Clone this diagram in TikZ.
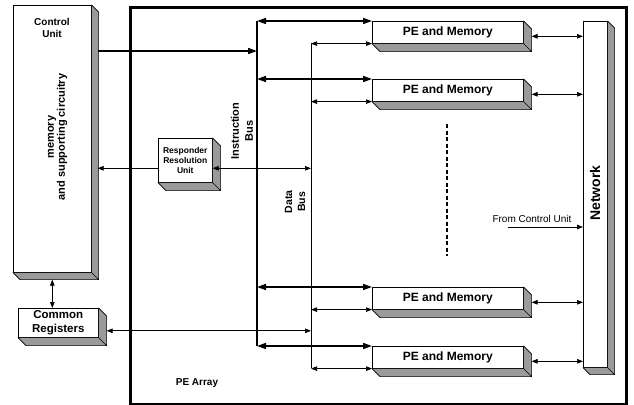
\documentclass[tikz,border=0pt]{standalone}
\usepackage{fontspec}
\setmainfont{Liberation Sans}
\usetikzlibrary{positioning, arrows.meta, calc}
\definecolor{SideGray}{HTML}{9A9A9A}

% gray side and bottom faces of a raised box
\newcommand{\sidefaces}[2]{%
  \filldraw[fill=SideGray, draw=black, line width=0.6pt, line join=round]
    (#1.north east) -- ([shift={(#2,#2)}]#1.north east)
    -- ([shift={(#2,#2)}]#1.south east) -- (#1.south east) -- cycle
    (#1.south west) -- (#1.south east) -- ([shift={(#2,#2)}]#1.south east)
    -- ([shift={(#2,#2)}]#1.south west) -- cycle;}

\begin{document}
\begin{tikzpicture}[x=1pt, y=-1pt,
  front/.style={draw=black, fill=white, line width=0.6pt, inner sep=0pt, anchor=north west, align=center},
  lbl/.style={font=\fontsize{10}{12}\selectfont\bfseries, align=center, inner sep=0pt},
  pe/.style={front, minimum width=151pt, minimum height=22pt, font=\fontsize{12}{14}\selectfont\bfseries},
  ibus/.style={line width=1.6pt},
  dbus/.style={line width=0.8pt},
  iarr/.style={line width=1.6pt, {Triangle[length=9pt,width=6pt]}-{Triangle[length=9pt,width=6pt]}},
  darr/.style={line width=0.7pt, {Triangle[length=6pt,width=4.5pt]}-{Triangle[length=6pt,width=4.5pt]}},
  sarr/.style={line width=0.7pt, -{Triangle[length=6pt,width=4.5pt]}},
]
  \useasboundingbox (0,0) rectangle (634,404);

  % PE array frame
  \node[draw, line width=3pt, inner sep=0pt, anchor=north west,
        minimum width=496pt, minimum height=396pt] (array) at (128.5,6.5) {};
  \node[lbl] (arraylbl) at (197,383) {PE Array};

  % Control unit
  \node[front, minimum width=78pt, minimum height=267pt] (cu) at (13,5) {};
  \sidefaces{cu}{7}
  \node[lbl] (cutitle) at (52,27.5) {Control\\Unit};
  \node[lbl, rotate=90, font=\fontsize{11}{11}\selectfont\bfseries] (cumem) at (57.5,137) {memory\\and supporting circuitry};

  % Common registers
  \node[front, minimum width=80pt, minimum height=29pt, font=\fontsize{11.5}{14}\selectfont\bfseries] (cr) at (18,308) {Common\\Registers};
  \sidefaces{cr}{8}

  % Responder resolution unit
  \node[front, minimum width=54pt, minimum height=44pt, font=\fontsize{8.5}{10}\selectfont\bfseries] (rru) at (158,138) {Responder\\Resolution\\Unit};
  \sidefaces{rru}{8}

  % PEs
  \node[pe] (pe1) at (372,21) {PE and Memory};
  \node[pe] (pe2) at (372,79) {PE and Memory};
  \node[pe] (pe3) at (372,287) {PE and Memory};
  \node[pe] (pe4) at (372,346) {PE and Memory};
  \foreach \p in {pe1,pe2,pe3,pe4} {\sidefaces{\p}{8}}

  % Network
  \node[front, minimum width=24pt, minimum height=346pt] (net) at (583,21) {};
  \sidefaces{net}{7}
  \node[lbl, rotate=90, font=\fontsize{14}{16}\selectfont\bfseries] (netlbl) at (595,193) {Network};

  % buses
  \coordinate (ibT) at (257,21);
  \coordinate (ibB) at (257,346);
  \coordinate (dbT) at (311,43);
  \coordinate (dbB) at (311,368);
  \draw[ibus] (ibT) -- (ibB);
  \draw[dbus] (dbT) -- (dbB);
  \node[lbl, rotate=90, font=\fontsize{11}{14}\selectfont\bfseries] (iblbl) at (242,131) {Instruction\\Bus};
  \node[lbl, rotate=90, font=\fontsize{10.5}{13}\selectfont\bfseries] (dblbl) at (295,202) {Data\\Bus};

  \foreach \p in {pe1,pe2,pe3,pe4} {
    \draw[iarr] (ibT |- \p.north west) -- (\p.north west);
    \draw[darr] (dbT |- \p.south west) -- (\p.south west);
    \draw[darr] ($(\p.east)+(8,4)$) -- ($(\p.east -| net.west)+(0,4)$);
  }

  % control unit links
  \path (cu.north east) ++(6,46) coordinate (cuIB);
  \draw[line width=1.6pt, -{Triangle[length=9pt,width=6pt]}] (cuIB) -- (cuIB -| ibT);
  \path (rru.west) ++(0,8) coordinate (rruL);
  \draw[sarr] (rruL) -- ($(rruL -| cu.east)+(6,0)$);
  \path (rru.east) ++(0,8) coordinate (rruR);
  \draw[darr] (rruR) -- (rruR -| dbT);
  \path (cr.east) ++(8,8) coordinate (crR);
  \draw[darr] (crR) -- (crR -| dbT);
  \draw[darr] ($(cu.south)+(0,7)$) -- (cu.south |- cr.north);

  % from control unit
  \node[font=\fontsize{10}{12}\selectfont, inner sep=0pt] (fcu) at (532,219) {From Control Unit};
  \coordinate (fcuS) at (508,227);
  \draw[sarr] (fcuS) -- (fcuS -| net.west);

  % more PEs
  \coordinate (gapT) at (447,124);
  \coordinate (gapB) at (447,256);
  \draw[line width=1.6pt, dash pattern=on 4pt off 2.5pt] (gapT) -- (gapB);
\end{tikzpicture}
\end{document}
